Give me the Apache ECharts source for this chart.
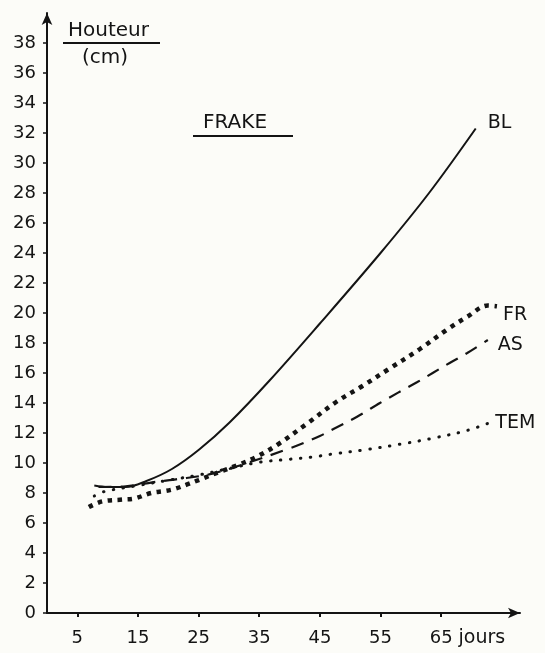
<!DOCTYPE html>
<html>
<head>
<meta charset="utf-8">
<script src="https://cdn.jsdelivr.net/npm/echarts@6/dist/echarts.min.js"></script>
<style>
  html, body { margin: 0; padding: 0; background: #fcfcf8; }
  #chart { width: 545px; height: 653px; }
</style>
</head>
<body>
<div id="chart"></div>
<script>
// Plant height (cm) against days, for the FRAKE trial
const dayTicks = [5, 15, 25, 35, 45, 55, 65];
const heightTicks = [0, 2, 4, 6, 8, 10, 12, 14, 16, 18, 20, 22, 24, 26, 28, 30, 32, 34, 36, 38];

const blDays    = [7.8, 10, 13, 16.4, 20.6, 25.1, 30.1, 36.7, 45, 55, 63, 70.7];
const blHeight  = [8.5, 8.4, 8.4, 8.8, 9.6, 10.9, 12.7, 15.5, 19.3, 24.0, 28.0, 32.3];

const frDays    = [6.9, 9.1, 12.4, 14.4, 17.2, 19.5, 21.2, 23.1, 25, 28.4, 31.7, 34.5, 38.3, 42.8, 47.8, 51.9, 56.5, 61.5, 66, 69.3, 72.7, 74.2];
const frHeight  = [7.06, 7.44, 7.56, 7.63, 8.0, 8.14, 8.29, 8.57, 8.86, 9.4, 9.9, 10.4, 11.3, 12.6, 14.1, 15.1, 16.3, 17.6, 18.9, 19.75, 20.5, 20.45];

const asDays    = [8.5, 13, 17.4, 20.2, 23, 27.3, 33, 39.5, 42.1, 45, 47.4, 51.2, 54.9, 57.9, 61, 63.6, 66.4, 69.3, 72.7];
const asHeight  = [8.4, 8.45, 8.71, 8.86, 9.0, 9.29, 10.0, 10.9, 11.3, 11.8, 12.3, 13.1, 14.0, 14.69, 15.38, 16.0, 16.67, 17.33, 18.2];

const temDays   = [7.8, 9.5, 15, 20, 25, 30.1, 35, 40, 43.8, 47.1, 52.7, 58.2, 63.6, 69.3, 73.1];
const temHeight = [7.8, 8.1, 8.5, 8.85, 9.2, 9.64, 10.05, 10.25, 10.4, 10.6, 10.9, 11.25, 11.65, 12.17, 12.7];

const zip = (xs, ys) => xs.map((x, i) => [x, ys[i]]);

const INK = '#141414';
const FONT = 'DejaVu Sans';

function curve(name, days, heights, lineStyle, labelOffset) {
  return {
    name: name,
    type: 'line',
    data: zip(days, heights),
    smooth: 0.35,
    showSymbol: false,
    symbol: 'none',
    silent: true,
    lineStyle: Object.assign({ color: INK }, lineStyle),
    endLabel: {
      show: true,
      formatter: '{a}',
      distance: 0,
      offset: labelOffset,
      color: INK,
      fontFamily: FONT,
      fontSize: 19
    },
    animation: false
  };
}

const chart = echarts.init(document.getElementById('chart'), null, { renderer: 'canvas' });

chart.setOption({
  backgroundColor: '#fcfcf8',
  animation: false,
  grid: { left: 47, right: 25, top: 13, bottom: 40, containLabel: false },
  xAxis: {
    type: 'value',
    min: 0,
    max: 78,
    name: 'jours',
    nameLocation: 'end',
    nameGap: -62,
    nameTextStyle: { color: INK, fontFamily: FONT, fontSize: 19, verticalAlign: 'top', padding: [16, 0, 0, 0] },
    axisLine: { show: true, lineStyle: { color: INK, width: 2 }, symbol: ['none', 'arrow'], symbolSize: [8, 12] },
    axisTick: { show: true, customValues: dayTicks, length: 4, lineStyle: { color: INK, width: 2 } },
    axisLabel: { customValues: dayTicks, color: INK, fontFamily: FONT, fontSize: 18, margin: 16 },
    splitLine: { show: false }
  },
  yAxis: {
    type: 'value',
    min: 0,
    max: 40,
    axisLine: { show: true, lineStyle: { color: INK, width: 2 }, symbol: ['none', 'arrow'], symbolSize: [8, 12] },
    axisTick: { show: true, customValues: heightTicks, length: 4, lineStyle: { color: INK, width: 1.5 } },
    axisLabel: { customValues: heightTicks, color: INK, fontFamily: FONT, fontSize: 18, margin: 11 },
    splitLine: { show: false }
  },
  series: [
    curve('BL', blDays, blHeight, { width: 2 }, [12, -5]),
    curve('FR', frDays, frHeight, { width: 4.5, type: [4.5, 5.5] }, [6, 9]),
    curve('AS', asDays, asHeight, { width: 2.2, type: [13, 9] }, [10, 5]),
    curve('TEM', temDays, temHeight, { width: 3, type: [0.5, 9.5], cap: 'round' }, [5, 1])
  ],
  graphic: [
    { type: 'text', left: 68, top: 21, style: { text: 'Houteur', fill: INK, font: '20px "DejaVu Sans"' } },
    { type: 'line', shape: { x1: 63, y1: 43, x2: 160, y2: 43 }, style: { stroke: INK, lineWidth: 2 } },
    { type: 'text', left: 82, top: 48, style: { text: '(cm)', fill: INK, font: '20px "DejaVu Sans"' } },
    { type: 'text', left: 203, top: 113, style: { text: 'FRAKE', fill: INK, font: '20px "DejaVu Sans"' } },
    { type: 'line', shape: { x1: 193, y1: 136, x2: 293, y2: 136 }, style: { stroke: INK, lineWidth: 2 } }
  ]
});
</script>
</body>
</html>
